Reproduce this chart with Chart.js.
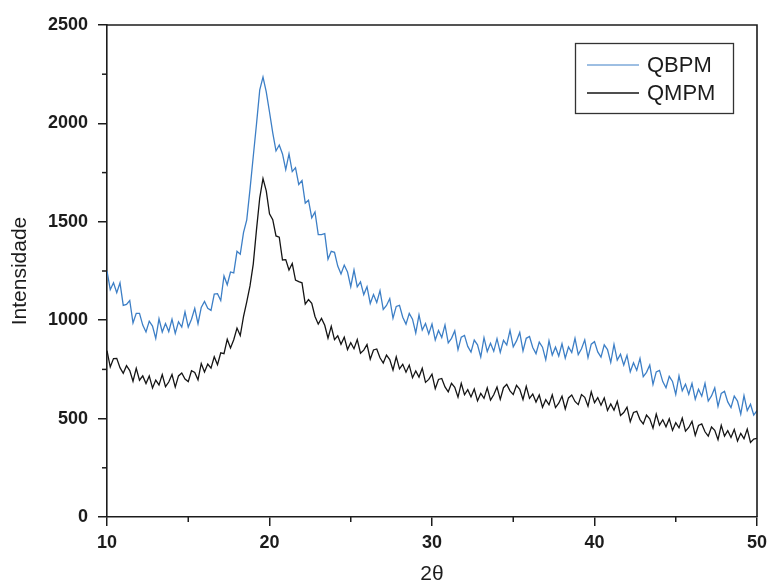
<!DOCTYPE html>
<html>
<head>
<meta charset="utf-8">
<script src="https://cdn.jsdelivr.net/npm/chart.js@4.4.0/dist/chart.umd.min.js"></script>
<style>
  html, body { margin: 0; padding: 0; background: #fff; }
  #wrap { width: 769px; height: 583px; }
</style>
</head>
<body>
<div id="wrap"><canvas id="xrdChart" width="769" height="583"></canvas></div>
<script>
// diffraction scan: 2theta from 10 to 50, one reading every 0.2 deg
const angleStart = 10;
const angleStep = 0.2;

const qbpm = [
  1250, 1155, 1190, 1140, 1190, 1075, 1080, 1100, 986, 1035,
  1035, 975, 940, 995, 970, 907, 1007, 940, 983, 942,
  1005, 933, 992, 965, 1042, 965, 1005, 1060, 982, 1065,
  1095, 1060, 1050, 1133, 1135, 1100, 1225, 1180, 1245, 1240,
  1350, 1335, 1445, 1510, 1665, 1832, 1997, 2170, 2235, 2160,
  2058, 1952, 1860, 1890, 1845, 1765, 1845, 1755, 1775, 1690,
  1710, 1595, 1610, 1520, 1550, 1435, 1435, 1440, 1310, 1350,
  1345, 1275, 1235, 1280, 1245, 1170, 1255, 1170, 1195, 1130,
  1170, 1085, 1130, 1090, 1150, 1055, 1075, 1110, 1010, 1070,
  1075, 1015, 980, 1035, 1005, 935, 1027, 950, 983, 930,
  980, 899, 948, 912, 976, 885, 908, 946, 850, 914,
  923, 867, 838, 899, 875, 813, 911, 841, 883, 842,
  906, 837, 898, 874, 948, 865, 895, 938, 844, 908,
  917, 861, 830, 889, 863, 799, 895, 823, 863, 818,
  880, 807, 864, 836, 908, 825, 855, 900, 810, 878,
  891, 839, 812, 875, 851, 785, 877, 797, 827, 772,
  822, 738, 784, 745, 806, 713, 735, 772, 674, 737,
  745, 688, 657, 715, 689, 623, 717, 641, 675, 624,
  679, 599, 649, 614, 679, 589, 615, 656, 562, 628,
  639, 585, 556, 615, 589, 523, 617, 541, 573, 518,
  540
];

const qmpm = [
  845, 762, 805, 806, 759, 730, 769, 744, 690, 756,
  695, 717, 678, 717, 656, 696, 671, 724, 662, 686,
  724, 660, 717, 732, 701, 688, 743, 734, 697, 780,
  737, 777, 756, 814, 774, 834, 830, 903, 859, 901,
  960, 922, 1018, 1093, 1174, 1285, 1460, 1622, 1720, 1657,
  1541, 1511, 1428, 1422, 1306, 1308, 1255, 1288, 1204, 1196,
  1190, 1082, 1105, 1086, 1019, 980, 1009, 974, 909, 969,
  901, 921, 878, 914, 851, 886, 855, 902, 832, 848,
  876, 802, 849, 854, 809, 782, 823, 800, 747, 814,
  753, 776, 736, 772, 708, 742, 711, 756, 684, 699,
  726, 652, 699, 704, 661, 636, 679, 659, 609, 679,
  621, 647, 610, 650, 590, 628, 603, 656, 594, 621,
  660, 598, 657, 674, 641, 622, 669, 649, 597, 664,
  603, 625, 584, 620, 558, 596, 570, 621, 556, 578,
  614, 549, 605, 620, 587, 571, 622, 608, 563, 636,
  581, 607, 568, 605, 541, 574, 543, 588, 516, 531,
  558, 484, 531, 537, 495, 473, 518, 499, 451, 523,
  467, 494, 458, 499, 440, 479, 453, 503, 436, 455,
  486, 415, 465, 473, 433, 411, 457, 440, 393, 466,
  411, 439, 404, 445, 386, 425, 398, 447, 379, 396,
  400
];

const seriesNames = ['QBPM', 'QMPM'];
const seriesColors = ['#3d7fc6', '#151515'];
const xTicksMajor = [10, 20, 30, 40, 50];
const xTicksMinor = [15, 25, 35, 45];
const yTicksMinor = [250, 750, 1250, 1750, 2250];

const FONT = '"Liberation Sans", Arial, sans-serif';
const INK = '#1c1c1c';

function toPoints(values) {
  return values.map((v, i) => ({ x: +(angleStart + i * angleStep).toFixed(1), y: v }));
}

// minor ticks, the top/right frame and the boxed legend
const framePlugin = {
  id: 'framePlugin',
  afterDraw(chart) {
    const c = chart.ctx;
    const area = chart.chartArea;
    const xs = chart.scales.x;
    const ys = chart.scales.y;
    c.save();
    c.strokeStyle = INK;
    c.lineWidth = 1.6;
    c.beginPath();
    c.moveTo(area.left, area.top);
    c.lineTo(area.right, area.top);
    c.lineTo(area.right, area.bottom);
    c.stroke();

    c.lineWidth = 1.5;
    xTicksMinor.forEach(v => {
      const px = xs.getPixelForValue(v);
      c.beginPath();
      c.moveTo(px, area.bottom);
      c.lineTo(px, area.bottom + 5);
      c.stroke();
    });
    yTicksMinor.forEach(v => {
      const py = ys.getPixelForValue(v);
      c.beginPath();
      c.moveTo(area.left, py);
      c.lineTo(area.left - 5, py);
      c.stroke();
    });

    // legend box
    const lx = 575, ly = 43, lw = 158, lh = 70;
    c.lineWidth = 1.3;
    c.strokeStyle = '#333';
    c.strokeRect(lx + 0.5, ly + 0.5, lw, lh);
    c.font = '22px ' + FONT;
    c.textBaseline = 'middle';
    c.fillStyle = INK;
    seriesNames.forEach((name, i) => {
      const yy = ly + 22 + i * 28;
      c.strokeStyle = seriesColors[i];
      c.lineWidth = i === 0 ? 1 : 1.6;
      c.beginPath();
      c.moveTo(lx + 12, yy);
      c.lineTo(lx + 64, yy);
      c.stroke();
      c.fillText(name, lx + 72, yy + 1);
    });
    c.restore();
  }
};

const ctx = document.getElementById('xrdChart').getContext('2d');

new Chart(ctx, {
  type: 'line',
  data: {
    datasets: [
      {
        label: seriesNames[0],
        data: toPoints(qbpm),
        borderColor: seriesColors[0],
        borderWidth: 1.3,
        pointRadius: 0,
        tension: 0,
        fill: false
      },
      {
        label: seriesNames[1],
        data: toPoints(qmpm),
        borderColor: seriesColors[1],
        borderWidth: 1.3,
        pointRadius: 0,
        tension: 0,
        fill: false
      }
    ]
  },
  options: {
    responsive: false,
    animation: false,
    layout: { padding: { top: 25, right: 12, left: 0, bottom: 0 } },
    plugins: {
      legend: { display: false },
      tooltip: { enabled: false }
    },
    scales: {
      x: {
        type: 'linear',
        min: 10,
        max: 50,
        afterFit: scale => {
          scale.height = 66;
          scale.paddingLeft = 0;
          scale.paddingRight = 0;
        },
        afterBuildTicks: scale => { scale.ticks = xTicksMajor.map(v => ({ value: v })); },
        border: { color: INK, width: 1.6 },
        grid: { drawOnChartArea: false, tickLength: 9, color: INK, lineWidth: 1.5 },
        ticks: {
          padding: 6,
          maxRotation: 0,
          color: INK,
          callback: v => String(v),
          font: { family: FONT, size: 18, weight: 'bold' }
        },
        title: {
          display: true,
          text: '2θ',
          color: INK,
          padding: { top: 0, bottom: -4 },
          font: { family: FONT, size: 21 }
        }
      },
      y: {
        min: 0,
        max: 2500,
        afterFit: scale => { scale.width = 107; },
        border: { color: INK, width: 1.6 },
        grid: { drawOnChartArea: false, tickLength: 9, color: INK, lineWidth: 1.5 },
        ticks: {
          stepSize: 500,
          padding: 10,
          color: INK,
          callback: v => String(v),
          font: { family: FONT, size: 18, weight: 'bold' }
        },
        title: {
          display: true,
          text: 'Intensidade',
          color: INK,
          padding: { top: 8, bottom: 0 },
          font: { family: FONT, size: 21 }
        }
      }
    }
  },
  plugins: [framePlugin]
});
</script>
</body>
</html>
